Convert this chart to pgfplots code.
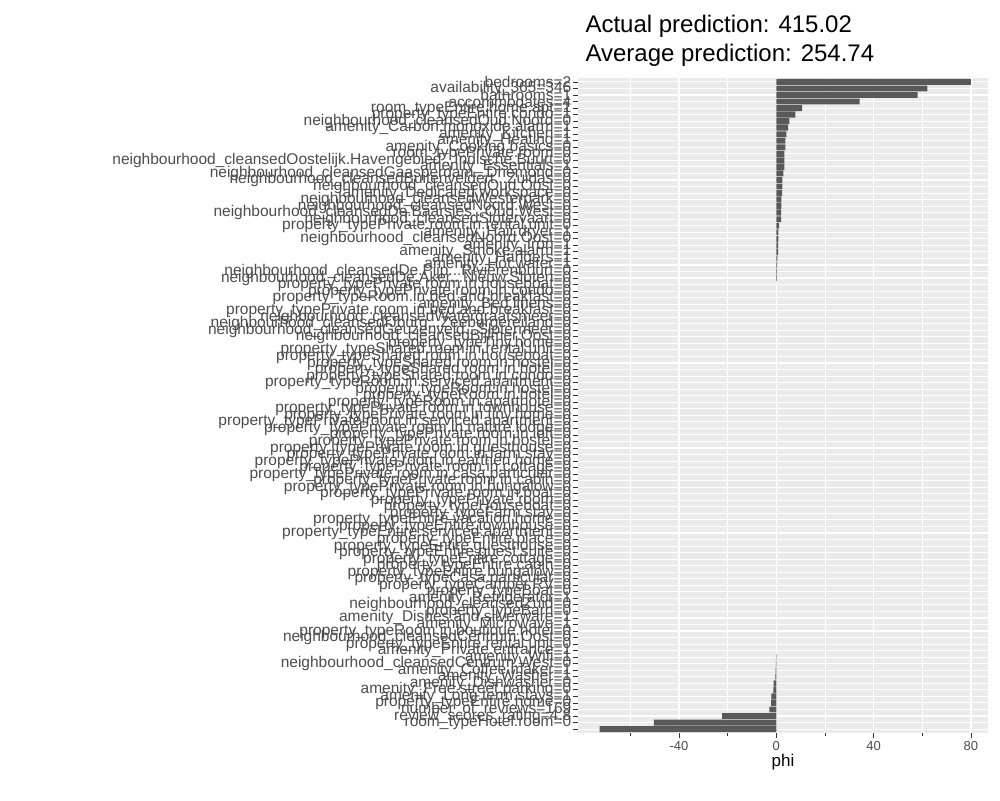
\documentclass[border=0pt]{standalone}
\usepackage{fontspec}
\setmainfont{Liberation Sans}
\usepackage{pgfplots}
\pgfplotsset{compat=1.18}
\definecolor{panel}{HTML}{EBEBEB}
\definecolor{barc}{HTML}{595959}
\definecolor{txt}{HTML}{4D4D4D}
\definecolor{tk}{HTML}{333333}
\newcommand{\dd}{.\kern0pt.\kern0pt.}
\begin{document}
\begin{tikzpicture}[x=1pt,y=1pt]
\path[use as bounding box] (0,0) rectangle (1000,800);
\node[anchor=base west,font=\fontsize{24}{28}\selectfont] at (582,767) {Actual prediction: 415.02};
\node[anchor=base west,font=\fontsize{24}{28}\selectfont] at (582,738) {Average prediction: 254.74};
\begin{axis}[at={(578pt,67pt)},anchor=south west,scale only axis,width=410pt,height=655pt,
 xbar, bar width=5.9pt, y dir=reverse,
 xmin=-81.5,xmax=87,ymin=0.4,ymax=100.6,
 axis background/.style={fill=panel},
 axis line style={draw=none},
 tick align=outside, xtick pos=bottom, ytick pos=left,
 major tick length=5pt, tick style={tk,line width=0.8pt},
 xtick={-40,0,40,80}, minor xtick={-60,-20,20,60},
 xmajorgrids, xminorgrids, ymajorgrids,
 major grid style={white,line width=1.1pt},
 minor grid style={white,line width=0.55pt},
 /pgf/number format/assume math mode=true,
 xticklabel style={font=\fontsize{13}{15}\selectfont,text=txt},
 xlabel={phi}, xlabel style={font=\fontsize{17}{20}\selectfont,yshift=3pt},
 ytick={1,2,...,100},
 yticklabel style={font=\fontsize{15.5}{16}\selectfont,text=txt,inner sep=1.5pt},
 yticklabels={
bedrooms=2,
availability\_365=346,
bathrooms=1,
accommodates=4,
room\_typeEntire.home.apt=1,
property\_typeEntire.condo=1,
neighbourhood\_cleansedOud.Noord=0,
amenity\_Carbon.monoxide.alarm=1,
amenity\_Kitchen=1,
amenity\_Heating=1,
amenity\_Cooking.basics=0,
room\_typePrivate.room=0,
{neighbourhood\_cleansedOostelijk.Havengebied\dd Indische.Buurt=0},
amenity\_Essentials=1,
{neighbourhood\_cleansedGaasperdam\dd Driemond=0},
{neighbourhood\_cleansedBuitenveldert\dd Zuidas=0},
neighbourhood\_cleansedOud.Oost=0,
amenity\_Dedicated.workspace=0,
neighbourhood\_cleansedWesterpark=0,
neighbourhood\_cleansedNoord.West=0,
{neighbourhood\_cleansedDe.Baarsjes\dd Oud.West=0},
neighbourhood\_cleansedSlotervaart=0,
property\_typePrivate.room.in.rental.unit=0,
amenity\_Hair.dryer=1,
neighbourhood\_cleansedNoord.Oost=0,
amenity\_Iron=1,
amenity\_Smoke.alarm=1,
amenity\_Hangers=1,
amenity\_Hot.water=1,
{neighbourhood\_cleansedDe.Pijp\dd Rivierenbuurt=0},
{neighbourhood\_cleansedDe.Aker\dd Nieuw.Sloten=0},
property\_typePrivate.room.in.houseboat=0,
property\_typePrivate.room.in.condo=0,
property\_typeRoom.in.bed.and.breakfast=0,
amenity\_Bed.linens=0,
property\_typePrivate.room.in.bed.and.breakfast=0,
neighbourhood\_cleansedWatergraafsmeer=0,
{neighbourhood\_cleansedIJburg\dd Zeeburgereiland=0},
{neighbourhood\_cleansedGeuzenveld\dd Slotermeer=0},
neighbourhood\_cleansedBijlmer.Oost=0,
property\_typeTiny.home=0,
property\_typeShared.room.in.rental.unit=0,
property\_typeShared.room.in.houseboat=0,
property\_typeShared.room.in.hostel=0,
property\_typeShared.room.in.hotel=0,
property\_typeShared.room.in.condo=0,
property\_typeRoom.in.serviced.apartment=0,
property\_typeRoom.in.hostel=0,
property\_typeRoom.in.hotel=0,
property\_typeRoom.in.aparthotel=0,
property\_typePrivate.room.in.townhouse=0,
property\_typePrivate.room.in.tiny.home=0,
property\_typePrivate.room.in.serviced.apartment=0,
property\_typePrivate.room.in.nature.lodge=0,
property\_typePrivate.room.in.loft=0,
property\_typePrivate.room.in.hostel=0,
property\_typePrivate.room.in.guesthouse=0,
property\_typePrivate.room.in.farm.stay=0,
property\_typePrivate.room.in.earthen.home=0,
property\_typePrivate.room.in.cottage=0,
property\_typePrivate.room.in.casa.particular=0,
property\_typePrivate.room.in.cabin=0,
property\_typePrivate.room.in.bungalow=0,
property\_typePrivate.room.in.boat=0,
property\_typePrivate.room=0,
property\_typeHouseboat=0,
property\_typeFarm.stay=0,
property\_typeEntire.vacation.home=0,
property\_typeEntire.townhouse=0,
property\_typeEntire.serviced.apartment=0,
property\_typeEntire.place=0,
property\_typeEntire.guesthouse=0,
property\_typeEntire.guest.suite=0,
property\_typeEntire.cottage=0,
property\_typeEntire.cabin=0,
property\_typeEntire.bungalow=0,
property\_typeCasa.particular=0,
property\_typeCamper.RV=0,
property\_typeBoat=0,
amenity\_Refrigerator=1,
neighbourhood\_cleansedZuid=0,
property\_typeBarn=0,
amenity\_Dishes.and.silverware=1,
amenity\_Microwave=1,
property\_typeRoom.in.boutique.hotel=0,
neighbourhood\_cleansedCentrum.Oost=0,
property\_typeEntire.rental.unit=0,
amenity\_Private.entrance=1,
amenity\_Wifi=1,
neighbourhood\_cleansedCentrum.West=0,
amenity\_Coffee.maker=1,
amenity\_Washer=1,
amenity\_Dishwasher=0,
amenity\_Free.street.parking=0,
amenity\_Long.term.stays=1,
property\_typeEntire.home=0,
number\_of\_reviews=169,
review\_scores\_rating=4.8,
room\_typeHotel.room=0},
]
\addplot[fill=barc,draw=none] table[x=v,y=r] {
r v
1 80
2 62.1
3 58.1
4 34.2
5 10.6
6 7.8
7 5.4
8 4.9
9 4.1
10 3.7
11 3.7
12 3.3
13 3.3
14 3.3
15 2.9
16 2.5
17 2.5
18 2.4
19 2.1
20 2.1
21 2.0
22 2.0
23 1.2
24 0.8
25 0.8
26 0.7
27 0.7
28 0.4
29 0.3
30 0.2
31 0.2
89 -0.1
90 -0.2
91 -0.3
92 -0.4
93 -1.1
94 -1.2
95 -2.0
96 -2.1
97 -2.9
98 -22.3
99 -50.3
100 -72.6
};
\end{axis}
\end{tikzpicture}
\end{document}
